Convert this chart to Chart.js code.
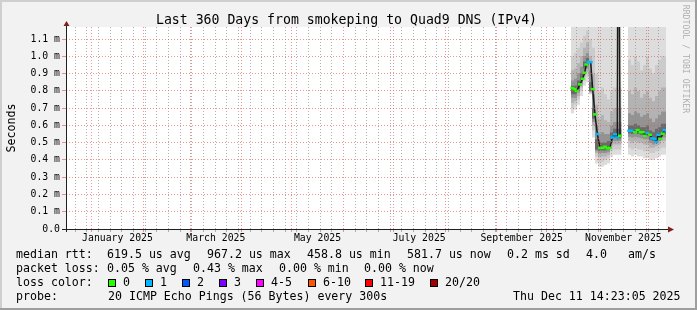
<!DOCTYPE html>
<html>
<head>
<meta charset="utf-8">
<title>Last 360 Days from smokeping to Quad9 DNS (IPv4)</title>
<script src="https://cdn.jsdelivr.net/npm/chart.js@4.4.1/dist/chart.umd.min.js"></script>
<style>
  body { margin: 0; background: #f2f2f2; }
  #wrap { position: relative; width: 697px; height: 310px; font-family: 'DejaVu Sans Mono', monospace; color: #000; }
  #wrap canvas { position: absolute; left: 0; top: 0; }
  .t { position: absolute; white-space: pre; font-size: 11.6px; line-height: 14px; }
  #title { position: absolute; left: 0; width: 693px; top: 11.5px; text-align: center; font-size: 13.2px; line-height: 16px; white-space: pre; }
  #ylab { position: absolute; left: -39px; top: 121px; width: 100px; height: 14px; line-height: 14px; font-size: 11.6px; text-align: center; transform: rotate(-90deg); }
  #mark { position: absolute; left: 626px; top: 54px; width: 120px; height: 10px; line-height: 10px; font-size: 8.2px; text-align: center; color: #b0b0b0; transform: rotate(90deg); white-space: pre; }
  .sw { position: absolute; width: 8px; height: 8px; box-sizing: border-box; border: 1px solid #000; }
</style>
</head>
<body>
<div id="wrap">
  <canvas id="chart" width="697" height="310"></canvas>
  <div id="title">Last 360 Days from smokeping to Quad9 DNS (IPv4)</div>
  <div id="ylab">Seconds</div>
  <div id="mark">RRDTOOL / TOBI OETIKER</div>
  <div id="legend"></div>
</div>
<script>
// ============================================
// DATA (x = days since start of the 360 day window, y = milliseconds)
// ============================================

const monthLabels = ['January 2025', 'March 2025', 'May 2025', 'July 2025', 'September 2025', 'November 2025'];
const labelMonthIdx = [0, 2, 4, 6, 8, 10];
const yTicks = [0, 0.1, 0.2, 0.3, 0.4, 0.5, 0.6, 0.7, 0.8, 0.9, 1.0, 1.1];

const medianDays = [303.8, 305.2, 306.4, 308.4, 310.0, 311.2, 312.2, 313.4, 314.8, 316.0,
    317.4, 318.8, 320.4, 322.0, 323.4, 325.0, 326.4, 327.8, 329.4, 330.8,
    331.3, 332.4, 335.0, 338.0, 339.3, 341.4, 343.0, 344.8, 346.0, 347.4,
    349.0, 350.4, 351.8, 353.2, 354.2, 355.4, 356.8, 358.0, 359.2];
const medianRtt = [0.816, 0.81, 0.80, 0.838, 0.87, 0.905, 0.953, 0.967, 0.967, 0.81,
    0.664, 0.55, 0.47, 0.47, 0.476, 0.467, 0.47, 0.53, 0.548, 0.53,
    2.5, 0.54, null, 0.569, 0.569, 0.56, 0.573, 0.561, 0.561, 0.54,
    0.556, 0.546, 0.525, 0.521, 0.504, 0.546, 0.523, 0.552, 0.573];
const medianLoss = [0, 0, 0, 0, 0, 0, 0, 1, 1, 0,
    0, 1, 0, 0, 0, 0, 0, 1, 1, 1,
    0, 0, 0, 1, 1, 0, 0, 0, 0, 0,
    1, 0, 1, 1, 1, 1, 0, 0, 1];

const smokeDays = [303.0, 304.8, 306.6, 308.4, 310.2, 312.0, 313.8, 315.6, 317.4, 319.2,
    321.0, 322.8, 324.6, 326.4, 328.2, 330.0, 331.8, 333.3, 335.0,
    337.2, 339.0, 340.8, 342.6, 344.4, 346.2, 348.0, 349.8, 351.6, 353.4, 355.2, 357.0, 358.8, 360.0];
const smokeHi5 = [1.3, 1.3, 1.3, 1.3, 1.3, 1.3, 1.3, 1.3, 1.3, 1.3, 1.3, 1.3, 1.3, 1.3, 1.3, 1.3, 1.3, 1.3, null,
    1.3, 1.3, 1.3, 1.3, 1.3, 1.3, 1.3, 1.3, 1.3, 1.3, 1.3, 1.3, 1.3, 1.3];
const smokeHi4 = [1.00, 1.00, 1.02, 1.05, 1.08, 1.12, 1.15, 1.10, 1.05, 0.90, 0.80, 0.82, 0.78, 0.75, 0.80, 0.82, 0.82, 0.82, null,
    0.95, 0.98, 0.95, 1.00, 0.97, 0.92, 0.95, 1.00, 0.93, 0.90, 0.95, 0.98, 1.00, 1.00];
const smokeHi3 = [0.92, 0.92, 0.93, 0.96, 1.00, 1.05, 1.08, 1.00, 0.90, 0.72, 0.64, 0.66, 0.63, 0.62, 0.68, 0.70, 0.70, 0.70, null,
    0.78, 0.80, 0.78, 0.82, 0.80, 0.76, 0.78, 0.80, 0.76, 0.74, 0.77, 0.80, 0.82, 0.82];
const smokeHi2 = [0.87, 0.86, 0.87, 0.90, 0.94, 1.00, 1.02, 0.92, 0.78, 0.60, 0.55, 0.56, 0.55, 0.55, 0.60, 0.62, 0.62, 0.62, null,
    0.66, 0.67, 0.66, 0.68, 0.67, 0.65, 0.66, 0.67, 0.64, 0.62, 0.64, 0.66, 0.68, 0.68];
const smokeHi1 = [0.84, 0.83, 0.83, 0.86, 0.90, 0.97, 0.99, 0.85, 0.70, 0.52, 0.50, 0.50, 0.50, 0.51, 0.56, 0.58, 0.58, 0.58, null,
    0.60, 0.60, 0.60, 0.61, 0.60, 0.59, 0.59, 0.60, 0.57, 0.56, 0.58, 0.59, 0.61, 0.61];
const smokeLo1 = [0.79, 0.78, 0.78, 0.81, 0.86, 0.93, 0.95, 0.80, 0.64, 0.46, 0.455, 0.455, 0.455, 0.46, 0.515, 0.53, 0.525, 0.525, null,
    0.55, 0.555, 0.55, 0.555, 0.55, 0.545, 0.54, 0.54, 0.515, 0.51, 0.52, 0.53, 0.55, 0.55];
const smokeLo2 = [0.77, 0.76, 0.76, 0.79, 0.84, 0.91, 0.93, 0.795, 0.62, 0.45, 0.44, 0.44, 0.44, 0.445, 0.50, 0.51, 0.51, 0.51, null,
    0.53, 0.535, 0.53, 0.535, 0.53, 0.525, 0.52, 0.52, 0.50, 0.49, 0.50, 0.51, 0.53, 0.53];
const smokeLo3 = [0.74, 0.73, 0.74, 0.77, 0.82, 0.89, 0.91, 0.79, 0.60, 0.44, 0.42, 0.42, 0.42, 0.43, 0.48, 0.49, 0.49, 0.49, null,
    0.50, 0.51, 0.50, 0.51, 0.50, 0.50, 0.49, 0.49, 0.47, 0.47, 0.48, 0.49, 0.51, 0.51];
const smokeLo4 = [0.71, 0.70, 0.72, 0.75, 0.80, 0.86, 0.88, 0.785, 0.57, 0.42, 0.39, 0.39, 0.40, 0.41, 0.45, 0.46, 0.46, 0.46, null,
    0.46, 0.47, 0.46, 0.47, 0.46, 0.46, 0.45, 0.45, 0.44, 0.44, 0.45, 0.46, 0.47, 0.47];
const smokeLo5 = [0.68, 0.67, 0.69, 0.72, 0.77, 0.83, 0.85, 0.78, 0.53, 0.38, 0.36, 0.36, 0.37, 0.38, 0.42, 0.43, 0.43, 0.43, null,
    0.42, 0.43, 0.42, 0.43, 0.42, 0.42, 0.41, 0.41, 0.40, 0.40, 0.41, 0.42, 0.43, 0.43];

const rttStats = ['619.5 us avg', '967.2 us max', '458.8 us min', '581.7 us now', '0.2 ms sd', '4.0', 'am/s'];
const lossStats = ['0.05 % avg', '0.43 % max', '0.00 % min', '0.00 % now'];
const lossBins = ['0', '1', '2', '3', '4-5', '6-10', '11-19', '20/20'];
const lossColors = ['#26ff00', '#00b8ff', '#0059ff', '#7e00ff', '#ff00ff', '#ff5500', '#ff0000', '#a10000'];
const probeText = '20 ICMP Echo Pings (56 Bytes) every 300s';
const stampText = 'Thu Dec 11 14:23:05 2025';

// ============================================
// TIME AXIS HELPERS
// ============================================

const DAY = 86400000;
const END = Date.UTC(2025, 11, 11, 14, 23, 5);
const START = END - 360 * DAY;
const dayOf = (y, m, d) => (Date.UTC(y, m, d) - START) / DAY;

const gridTicks = [];
for (let m = 0; m < 12; m++) gridTicks.push({ value: dayOf(2025, m, 1), major: true });
for (let d = dayOf(2024, 11, 22); d <= 360; d += 7) {
    if (!gridTicks.some(t => Math.abs(t.value - d) < 0.01)) gridTicks.push({ value: d, major: false });
}
gridTicks.sort((a, b) => a.value - b.value);
const labelTicks = labelMonthIdx.map(m => ({ value: (dayOf(2025, m, 1) + dayOf(2025, m + 1, 1)) / 2 }));

// ============================================
// STYLE
// ============================================

const MGRID = 'rgba(222, 79, 79, 0.6)';
const GRID = 'rgba(143, 143, 143, 0.7)';
const SMOKE = ['#6a6a6a', '#939393', '#b3b3b3', '#cbcbcb', '#dddddd'];
const tickFont = { family: 'DejaVu Sans Mono', size: 9.8 };

// ============================================
// LEGEND (html text)
// ============================================

function addText(x, y, s) {
    const el = document.createElement('div');
    el.className = 't';
    el.style.left = x + 'px';
    el.style.top = y + 'px';
    el.textContent = s;
    document.getElementById('legend').appendChild(el);
}

function buildLegend() {
    const rows = [247, 261, 275, 289];
    addText(16, rows[0], 'median rtt:');
    [107, 207, 307, 407, 507, 586, 628].forEach((x, i) => addText(x, rows[0], rttStats[i]));
    addText(16, rows[1], 'packet loss:');
    [107, 193, 279, 364].forEach((x, i) => addText(x, rows[1], lossStats[i]));
    addText(16, rows[2], 'loss color:');
    [108, 145, 182, 219, 256, 308, 365, 430].forEach((x, i) => {
        const sw = document.createElement('div');
        sw.className = 'sw';
        sw.style.left = x + 'px';
        sw.style.top = '279px';
        sw.style.background = lossColors[i];
        document.getElementById('legend').appendChild(sw);
        addText(x + 15, rows[2], lossBins[i]);
    });
    addText(16, rows[3], 'probe:');
    addText(108, rows[3], probeText);
    addText(513, rows[3], stampText);
}
buildLegend();

// ============================================
// CHART
// ============================================

const pts = (days, vals) => days.map((d, i) => ({ x: d, y: vals[i] }));

function bandPair(hi, lo, color, loIndex) {
    return [
        { data: pts(smokeDays, hi), borderWidth: 0, borderColor: 'transparent', pointRadius: 0,
          backgroundColor: color, fill: loIndex, stepped: 'after', spanGaps: false },
        { data: pts(smokeDays, lo), borderWidth: 0, borderColor: 'transparent', pointRadius: 0,
          fill: false, stepped: 'after', spanGaps: false }
    ];
}

const rrdPlugin = {
    id: 'rrdFrame',
    beforeDraw(chart) {
        const { ctx, chartArea: a, width, height } = chart;
        ctx.save();
        ctx.fillStyle = '#f2f2f2';
        ctx.fillRect(0, 0, width, height);
        ctx.fillStyle = '#cfcfcf';
        ctx.fillRect(0, 0, width, 2);
        ctx.fillRect(0, 0, 2, height);
        ctx.fillStyle = '#9e9e9e';
        ctx.fillRect(0, height - 2, width, 2);
        ctx.fillRect(width - 2, 0, 2, height);
        ctx.fillStyle = '#ffffff';
        ctx.fillRect(a.left, a.top, a.right - a.left, a.bottom - a.top);
        ctx.restore();
    },
    afterDraw(chart) {
        const { ctx, chartArea: a } = chart;
        ctx.save();
        ctx.strokeStyle = '#1f1f1f';
        ctx.lineWidth = 1;
        ctx.beginPath();
        ctx.moveTo(a.left - 4, a.bottom + 0.5);
        ctx.lineTo(a.right + 3, a.bottom + 0.5);
        ctx.moveTo(a.left + 0.5, a.bottom + 3);
        ctx.lineTo(a.left + 0.5, a.top - 2);
        ctx.stroke();
        ctx.fillStyle = '#801f1f';
        ctx.beginPath();
        ctx.moveTo(a.right + 2, a.bottom - 2.5);
        ctx.lineTo(a.right + 8, a.bottom + 0.5);
        ctx.lineTo(a.right + 2, a.bottom + 3.5);
        ctx.closePath();
        ctx.fill();
        ctx.beginPath();
        ctx.moveTo(a.left - 2.5, a.top - 1);
        ctx.lineTo(a.left + 0.5, a.top - 6);
        ctx.lineTo(a.left + 3.5, a.top - 1);
        ctx.closePath();
        ctx.fill();
        ctx.restore();
    }
};

new Chart(document.getElementById('chart'), {
    type: 'line',
    data: {
        datasets: [
            {
                data: pts(medianDays, medianRtt),
                borderColor: '#1a1a1a',
                borderWidth: 1.5,
                fill: false,
                spanGaps: false,
                pointStyle: 'line',
                pointRadius: 2,
                pointBorderWidth: 2.5,
                pointBorderColor: medianLoss.map(l => lossColors[l]),
                pointBackgroundColor: medianLoss.map(l => lossColors[l])
            },
            ...bandPair(smokeHi1, smokeLo1, SMOKE[0], 2),
            ...bandPair(smokeHi2, smokeLo2, SMOKE[1], 4),
            ...bandPair(smokeHi3, smokeLo3, SMOKE[2], 6),
            ...bandPair(smokeHi4, smokeLo4, SMOKE[3], 8),
            ...bandPair(smokeHi5, smokeLo5, SMOKE[4], 10)
        ]
    },
    options: {
        responsive: false,
        animation: false,
        events: [],
        layout: { padding: { left: 0, right: 31, top: 27, bottom: 0 }, autoPadding: false },
        plugins: { legend: { display: false }, tooltip: { enabled: false }, title: { display: false } },
        scales: {
            x: {
                type: 'linear', min: 0, max: 360, position: 'bottom', weight: 0,
                afterBuildTicks: s => { s.ticks = gridTicks.map(t => ({ value: t.value, major: t.major })); },
                ticks: { display: false, autoSkip: false },
                grid: { z: 1, lineWidth: 1, tickLength: 3,
                        color: c => (c.tick && c.tick.major) ? MGRID : GRID },
                border: { display: false, dash: [1, 2] },
                afterFit: s => { s.height = 0; }
            },
            x2: {
                type: 'linear', min: 0, max: 360, position: 'bottom', weight: 1,
                afterBuildTicks: s => { s.ticks = labelTicks.map(t => ({ value: t.value })); },
                ticks: { autoSkip: false, maxRotation: 0, padding: 3.5, color: '#000', font: tickFont,
                         callback: (v, i) => monthLabels[i] },
                grid: { display: false, drawTicks: false },
                border: { display: false },
                afterFit: s => { s.height = 81; }
            },
            y: {
                min: 0, max: 1.17,
                afterBuildTicks: s => { s.ticks = yTicks.map(v => ({ value: v })); },
                ticks: { autoSkip: false, padding: 2, color: '#000', font: tickFont,
                         callback: v => v === 0 ? '0.0' : v.toFixed(1) + ' m' },
                grid: { z: 1, color: MGRID, lineWidth: 1, tickLength: 4 },
                border: { display: false, dash: [1, 2] },
                afterFit: s => { s.width = 66; }
            }
        }
    },
    plugins: [rrdPlugin]
});
</script>
</body>
</html>
